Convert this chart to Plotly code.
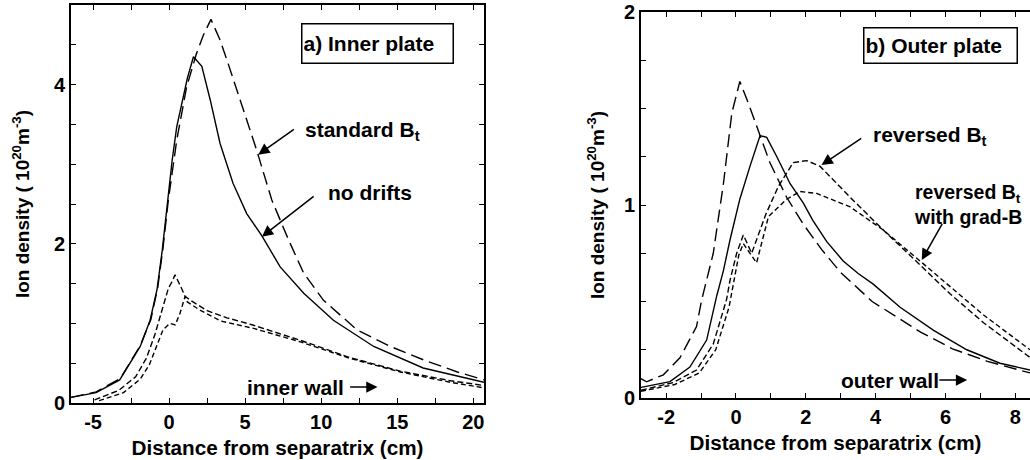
import plotly.graph_objects as go

# ---------------- data: a) inner plate ----------------
a_x_no_drifts = [-6.45, -4.8, -3.25, -1.9, -1.25, -0.8, -0.45, -0.1, 0.2, 0.5, 0.95, 1.2, 1.6,
                 2.15, 2.7, 3.35, 4.2, 5.1, 6.1, 7.3, 8.85, 10.8, 13.45, 16.7, 20.7]
a_y_no_drifts = [0.07, 0.13, 0.29, 0.71, 1.04, 1.42, 1.92, 2.55, 3.05, 3.47, 3.89, 4.08, 4.35,
                 4.23, 3.81, 3.26, 2.76, 2.38, 2.10, 1.71, 1.38, 1.04, 0.71, 0.44, 0.26]

a_x_standard = [-6.45, -4.8, -3.2, -1.9, -1.2, -0.75, -0.4, -0.05, 0.5, 1.15, 1.8, 2.25, 2.75,
                3.35, 3.8, 4.65, 5.75, 6.75, 7.85, 8.85, 10.15, 12.35, 14.55, 16.75, 18.95, 20.7]
a_y_standard = [0.07, 0.14, 0.31, 0.72, 1.05, 1.45, 1.95, 2.55, 3.3, 3.97, 4.39, 4.62, 4.82,
                4.56, 4.31, 3.81, 3.18, 2.55, 2.05, 1.63, 1.29, 0.92, 0.71, 0.54, 0.39, 0.29]

a_x_reversed = [-4.9, -3.3, -2.2, -1.5, -0.95, -0.45, -0.05, 0.18, 0.39, 0.72, 1.05, 1.4, 2.5,
                3.8, 5.5, 8.6, 11.9, 15.2, 18.5, 20.7]
a_y_reversed = [0.04, 0.16, 0.33, 0.56, 0.85, 1.18, 1.44, 1.52, 1.61, 1.48, 1.34, 1.29, 1.16,
                1.07, 0.98, 0.79, 0.57, 0.40, 0.28, 0.22]

a_x_gradb = [-4.6, -3.0, -1.9, -1.3, -0.85, -0.4, 0.05, 0.4, 0.72, 1.05, 1.2, 2.0, 3.4, 5.5,
             8.6, 11.9, 15.2, 18.5, 20.7]
a_y_gradb = [0.03, 0.13, 0.30, 0.48, 0.70, 0.92, 1.0, 0.98, 1.13, 1.34, 1.27, 1.17, 1.03, 0.94,
             0.77, 0.56, 0.39, 0.26, 0.19]

# ---------------- data: b) outer plate ----------------
b_x_standard = [-2.72, -2.56, -2.08, -1.6, -1.13, -0.98, -0.65, -0.36, -0.12, 0.11, 0.35, 0.59,
                0.97, 1.45, 1.93, 2.45, 3.0, 3.9, 4.7, 5.3, 6.2, 7.2, 7.7, 8.42]
b_y_standard = [0.10, 0.084, 0.12, 0.21, 0.37, 0.51, 0.75, 1.11, 1.475, 1.64, 1.53, 1.41,
                1.22, 1.04, 0.90, 0.77, 0.65, 0.50, 0.41, 0.34, 0.255, 0.19, 0.165, 0.13]

b_x_no_drifts = [-2.72, -1.89, -1.32, -0.84, -0.55, -0.36, -0.17, 0.11, 0.40, 0.69, 0.88, 1.17,
                 1.55, 1.93, 2.2, 2.6, 3.07, 3.5, 3.93, 4.7, 5.66, 6.61, 7.56, 8.42]
b_y_no_drifts = [0.055, 0.085, 0.16, 0.30, 0.53, 0.66, 0.82, 1.03, 1.20, 1.36, 1.35, 1.25,
                 1.11, 1.01, 0.92, 0.81, 0.71, 0.645, 0.59, 0.47, 0.35, 0.25, 0.18, 0.145]

b_x_reversed = [-2.72, -1.8, -1.13, -0.65, -0.27, -0.17, 0.02, 0.21, 0.45, 0.85, 1.21, 1.64,
                2.03, 2.41, 3.27, 4.22, 5.27, 6.13, 7.09, 8.42]
b_y_reversed = [0.04, 0.08, 0.145, 0.28, 0.51, 0.61, 0.75, 0.845, 0.75, 0.95, 1.095, 1.22,
                1.23, 1.20, 1.04, 0.87, 0.69, 0.54, 0.39, 0.21]

b_x_gradb = [-2.72, -1.75, -1.05, -0.58, -0.2, -0.05, 0.08, 0.21, 0.59, 0.93, 1.45, 1.83,
             2.31, 3.27, 4.22, 5.27, 6.13, 7.09, 8.42]
b_y_gradb = [0.035, 0.07, 0.13, 0.25, 0.47, 0.62, 0.74, 0.80, 0.70, 0.94, 1.03, 1.07,
             1.06, 0.99, 0.87, 0.71, 0.58, 0.43, 0.25]

# ---------------- axis ticks and tick labels ----------------
a_xticks = [-5, 0, 5, 10, 15, 20]
a_xlabels = ["-5", "0", "5", "10", "15", "20"]
a_yticks = [0, 2, 4]
a_ylabels = ["0", "2", "4"]
b_xticks = [-2, 0, 2, 4, 6, 8]
b_xlabels = ["-2", "0", "2", "4", "6", "8"]
b_yticks = [0, 1, 2]
b_ylabels = ["0", "1", "2"]

FONT = "Liberation Sans, Arial, Helvetica, sans-serif"
LONG = "13px,6px"
SHORT = "6px,3px"
SHORT2 = "5px,3px"

fig = go.Figure()


def add_line(x, y, dash, xa, ya, width=1.4):
    fig.add_trace(go.Scatter(x=x, y=y, mode="lines", xaxis=xa, yaxis=ya,
                             line=dict(color="black", width=width, dash=dash),
                             showlegend=False, hoverinfo="skip"))


add_line(a_x_no_drifts, a_y_no_drifts, "solid", "x", "y")
add_line(a_x_standard, a_y_standard, LONG, "x", "y")
add_line(a_x_reversed, a_y_reversed, SHORT, "x", "y")
add_line(a_x_gradb, a_y_gradb, SHORT2, "x", "y")

add_line(b_x_no_drifts, b_y_no_drifts, "solid", "x2", "y2")
add_line(b_x_standard, b_y_standard, LONG, "x2", "y2")
add_line(b_x_reversed, b_y_reversed, SHORT, "x2", "y2")
add_line(b_x_gradb, b_y_gradb, SHORT2, "x2", "y2")

tickfont = dict(family=FONT, size=20, color="black", weight="bold")
xtitlefont = dict(family=FONT, size=20.7, color="black", weight="bold")
ytitlefont = dict(family=FONT, size=19, color="black", weight="bold")


def axis(domain, rng, tickvals, ticktext, minor_dtick, title, anchor, mirror, standoff, tfont):
    return dict(domain=domain, range=rng, tickmode="array", tickvals=tickvals, ticktext=ticktext,
                ticks="inside", ticklen=5, tickwidth=1.2, tickcolor="black",
                minor=dict(ticks="inside", dtick=minor_dtick, tick0=0, ticklen=5, tickwidth=1.2,
                           tickcolor="black", showgrid=False),
                showline=True, linecolor="black", linewidth=1.6, mirror=mirror,
                showgrid=False, zeroline=False, tickfont=tickfont,
                title=dict(text=title, font=tfont, standoff=standoff),
                anchor=anchor, automargin=False)


ytitle = "Ion density ( 10<sup>20</sup>m<sup>-3</sup>)"
xtitle = "Distance from separatrix (cm)"

fig.update_layout(
    width=1030, height=460,
    margin=dict(l=0, r=0, t=0, b=0),
    paper_bgcolor="white", plot_bgcolor="white",
    xaxis=axis([71 / 1030, 484 / 1030], [-6.45, 20.7], a_xticks, a_xlabels, 2.5, xtitle, "y",
               "ticks", 9, xtitlefont),
    yaxis=axis([1 - 403 / 460, 1 - 5 / 460], [0, 5], a_yticks, a_ylabels, 0.5, ytitle, "x",
               "ticks", 19, ytitlefont),
    xaxis2=axis([641 / 1030, 1.0], [-2.72, 8.42], b_xticks, b_xlabels, 1, xtitle, "y2",
                "ticks", 9, xtitlefont),
    yaxis2=axis([1 - 398 / 460, 1 - 12 / 460], [0, 2], b_yticks, b_ylabels, 0.25, ytitle, "x2",
                False, 14, ytitlefont),
)

annfont = dict(family=FONT, size=21, color="black", weight="bold")
anns = []


def label(text, x, y, xr, yr, xanchor="left", size=21, **kw):
    f = dict(annfont)
    f["size"] = size
    anns.append(dict(text=text, x=x, y=y, xref=xr, yref=yr, xanchor=xanchor,
                     yanchor="middle", showarrow=False, font=f, align="left", **kw))


def arrow(x, y, ax, ay, xr, yr):
    anns.append(dict(text="", x=x, y=y, ax=ax, ay=ay, xref=xr, yref=yr, axref=xr, ayref=yr,
                     showarrow=True, arrowhead=2, arrowsize=1.5, arrowwidth=1.5,
                     arrowcolor="black", standoff=0, startstandoff=0))


# panel a
label("a) Inner plate", 13.7, 4.52, "x", "y", xanchor="center",
      bordercolor="black", borderwidth=1.5, width=148, height=36, bgcolor="white")
label("standard B<sub>t</sub>", 8.8, 3.42, "x", "y")
arrow(5.86, 3.12, 8.3, 3.45, "x", "y")
label("no drifts", 10.3, 2.64, "x", "y")
arrow(6.1, 2.09, 9.6, 2.61, "x", "y")
label("inner wall", 5.0, 0.2, "x", "y")
arrow(13.7, 0.2, 11.8, 0.2, "x", "y")

# panel b
label("b) Outer plate", 5.87, 1.826, "x2", "y2", xanchor="center",
      bordercolor="black", borderwidth=1.5, width=150, height=32, bgcolor="white")
label("reversed B<sub>t</sub>", 3.88, 1.36, "x2", "y2")
arrow(2.45, 1.207, 3.63, 1.35, "x2", "y2")
label("reversed B<sub>t</sub><br>with grad-B", 5.05, 1.0, "x2", "y2", size=19.5)
arrow(5.32, 0.715, 5.93, 0.91, "x2", "y2")
label("outer wall", 2.95, 0.093, "x2", "y2")
arrow(6.62, 0.093, 5.78, 0.093, "x2", "y2")

fig.update_layout(annotations=anns)
fig.write_html("out.html")
